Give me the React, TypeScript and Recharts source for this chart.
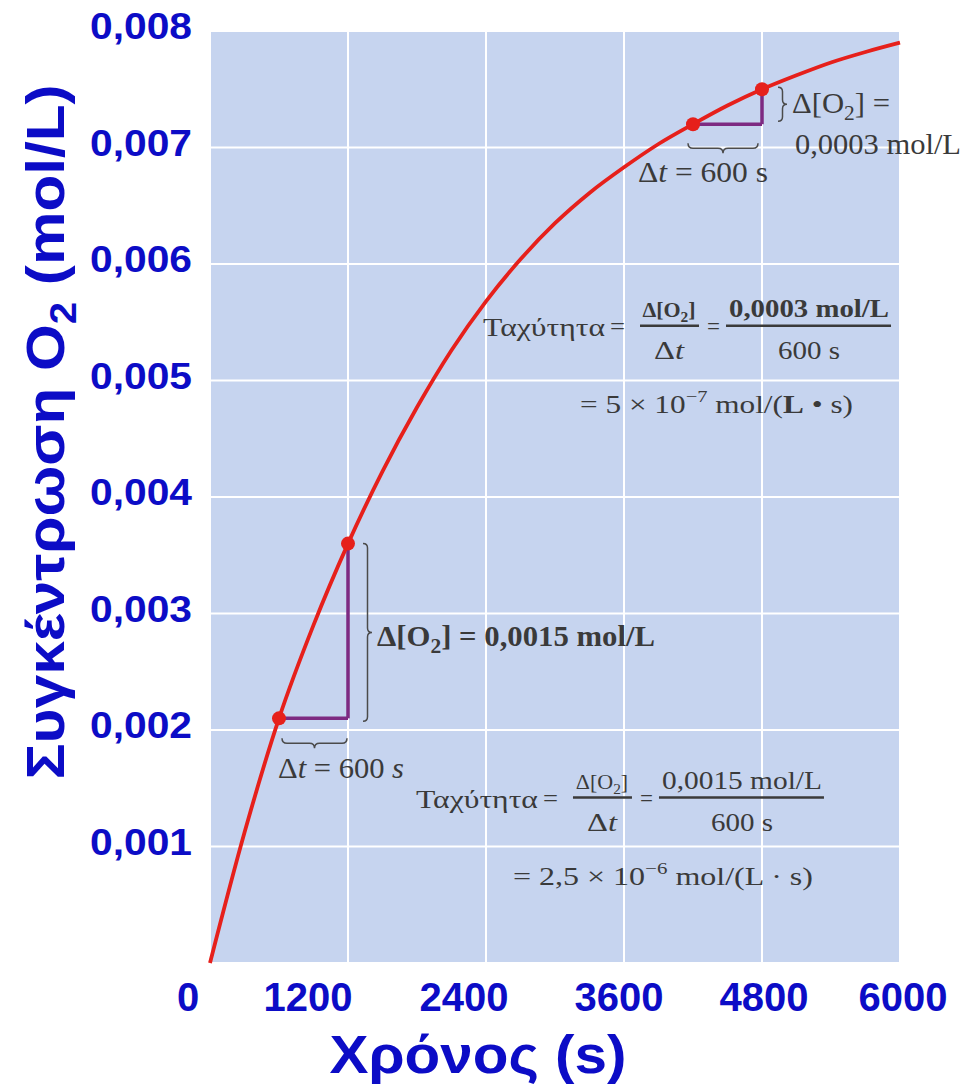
import {
  CartesianGrid,
  ComposedChart,
  Label,
  Line,
  ReferenceDot,
  ReferenceLine,
  XAxis,
  YAxis,
} from "recharts";

// time (s) and O2 concentration (mol/L)
const times = [
  0, 300, 600, 900, 1200, 1500, 1800, 2100, 2400, 2700, 3000, 3300, 3600,
  3900, 4200, 4500, 4800, 5100, 5400, 5700, 6000,
];
const o2 = [
  0, 0.00112, 0.0021, 0.0029, 0.0036, 0.00422, 0.00477, 0.00526, 0.00568,
  0.00604, 0.00635, 0.00661, 0.00683, 0.00703, 0.0072, 0.00736, 0.0075,
  0.00762, 0.00773, 0.00782, 0.0079,
];
const markedTimes = [600, 1200, 4200, 4800];
const xTicks = [0, 1200, 2400, 3600, 4800, 6000];
const yTicks = [0.001, 0.002, 0.003, 0.004, 0.005, 0.006, 0.007, 0.008];
// the printed tick numbers sit a little off the grid lines
const xTickNudge: Record<number, number> = {
  0: -22,
  1200: -40,
  2400: -22,
  3600: -5,
  4800: 2,
  6000: 3,
};

const rows = times.map((t, i) => ({ t, c: o2[i] }));

const C = {
  blue: "#0c0cc6",
  plot: "#c6d4ef",
  grid: "#ffffff",
  curve: "#e6201b",
  leg: "#7d2a82",
  ink: "#3a3a3a",
  brace: "#4b4b4b",
};

const SANS = "'Liberation Sans', Arial, sans-serif";
const SERIF = "'Liberation Serif', 'DejaVu Serif', serif";

function vBrace(x: number, ya: number, yb: number, w: number) {
  const m = (ya + yb) / 2;
  const h = w / 2;
  return `M${x},${ya} Q${x + h},${ya} ${x + h},${ya + h} L${x + h},${m - h} Q${x + h},${m} ${x + w},${m} Q${x + h},${m} ${x + h},${m + h} L${x + h},${yb - h} Q${x + h},${yb} ${x},${yb}`;
}

function hBrace(xa: number, xb: number, y: number, h: number) {
  const m = (xa + xb) / 2;
  const k = h / 2;
  return `M${xa},${y} Q${xa},${y + k} ${xa + k},${y + k} L${m - k},${y + k} Q${m},${y + k} ${m},${y + h} Q${m},${y + k} ${m + k},${y + k} L${xb - k},${y + k} Q${xb},${y + k} ${xb},${y}`;
}

function XTick({ x, y, payload }: any) {
  const shift = xTickNudge[payload.value] ?? 0;
  return (
    <text
      x={x + shift}
      y={y + 48}
      textAnchor="middle"
      fontSize={40}
      fontWeight={700}
      fontFamily={SANS}
      fill={C.blue}
    >
      {payload.value}
    </text>
  );
}

function YTick({ x, y, payload }: any) {
  return (
    <text
      x={x - 18}
      y={y + 8}
      textAnchor="end"
      fontSize={36}
      fontWeight={700}
      fontFamily={SANS}
      fill={C.blue}
      textLength={102}
      lengthAdjust="spacingAndGlyphs"
    >
      {String(payload.value).replace(".", ",")}
    </text>
  );
}

function O2({ size = 26 }: { size?: number }) {
  return (
    <>
      Δ[O<tspan dy={size * 0.25} fontSize={size * 0.7}>2</tspan>
      <tspan dy={-size * 0.25}>]</tspan>
    </>
  );
}

const stretch = { lengthAdjust: "spacingAndGlyphs" as const };

function RateFormula({
  x,
  y,
  amount,
  result,
  exponent,
  dot,
  tail,
  bold,
}: {
  x: number;
  y: number;
  amount: string;
  result: string;
  exponent: string;
  dot: string;
  tail: number;
  bold?: boolean;
}) {
  const w = bold ? 700 : 400;
  return (
    <g fontFamily={SERIF} fontSize={26} fill={C.ink}>
      <text x={x} y={y + 10} textLength={122} {...stretch}>
        Ταχύτητα
      </text>
      <text x={x + 127} y={y + 9} textLength={15} {...stretch}>
        =
      </text>
      <text
        x={x + 186}
        y={y - 9}
        textAnchor="middle"
        fontWeight={w}
        fontSize={22}
      >
        <O2 size={22} />
      </text>
      <line x1={x + 157} x2={x + 216} y1={y} y2={y} stroke={C.ink} strokeWidth={2.5} />
      <text x={x + 186} y={y + 33} textAnchor="middle" textLength={30} {...stretch}>
        Δ<tspan fontStyle="italic">t</tspan>
      </text>
      <text x={x + 224} y={y + 9} textLength={13} {...stretch}>
        =
      </text>
      <text
        x={x + 326}
        y={y - 9}
        textAnchor="middle"
        fontWeight={w}
        textLength={160}
        {...stretch}
      >
        {amount}
      </text>
      <line x1={x + 243} x2={x + 408} y1={y} y2={y} stroke={C.ink} strokeWidth={2.5} />
      <text x={x + 326} y={y + 33} textAnchor="middle" textLength={62} {...stretch}>
        600 s
      </text>
      <text x={x + 97} y={y + 87} textLength={tail} {...stretch}>
        = {result} × 10
        <tspan dy={-11} fontSize={17}>
          {exponent}
        </tspan>
        <tspan dy={11}> mol/(</tspan>
        <tspan fontWeight={w}>L</tspan>
        <tspan> {dot} s)</tspan>
      </text>
    </g>
  );
}

function RateDot(props: any) {
  const { cx, cy, payload, index } = props;
  if (!markedTimes.includes(payload.t)) return <g key={`d${index}`} />;
  return <circle key={`d${index}`} cx={cx} cy={cy} r={7} fill={C.curve} />;
}

export default function App() {
  return (
    <div style={{ position: "absolute", left: 0, top: 0, background: "#fff" }}>
      <ComposedChart
        width={967}
        height={1090}
        data={rows}
        margin={{ top: 31, right: 67, bottom: 0, left: 0 }}
      >
        <CartesianGrid
          fill={C.plot}
          fillOpacity={1}
          stroke={C.grid}
          strokeWidth={2}
        />
        <XAxis
          dataKey="t"
          type="number"
          domain={[0, 6000]}
          ticks={xTicks}
          height={127}
          axisLine={false}
          tickLine={false}
          tickSize={0}
          tickMargin={0}
          tick={<XTick />}
        >
          <Label
            content={() => (
              <text
                x={478}
                y={1073}
                textAnchor="middle"
                fontSize={54}
                fontWeight={700}
                fontFamily={SANS}
                fill={C.blue}
                textLength={297}
                lengthAdjust="spacingAndGlyphs"
              >
                Χρόνος (s)
              </text>
            )}
          />
        </XAxis>
        <YAxis
          type="number"
          domain={[0, 0.008]}
          ticks={yTicks}
          width={210}
          axisLine={false}
          tickLine={false}
          tickSize={0}
          tickMargin={0}
          tick={<YTick />}
        >
          <Label
            content={() => (
              <text
                transform="translate(64,432) rotate(-90)"
                textAnchor="middle"
                fontSize={54}
                fontWeight={700}
                fontFamily={SANS}
                fill={C.blue}
                textLength={695}
                lengthAdjust="spacingAndGlyphs"
              >
                Συγκέντρωση O
                <tspan dy={12} fontSize={36}>
                  2
                </tspan>
                <tspan dy={-12}> (mol/L)</tspan>
              </text>
            )}
          />
        </YAxis>

        {/* Δt / Δ[O2] legs of the two rate triangles */}
        <ReferenceLine
          segment={[{ x: 600, y: 0.0021 }, { x: 1200, y: 0.0021 }]}
          stroke={C.leg}
          strokeWidth={3.5}
        />
        <ReferenceLine
          segment={[{ x: 1200, y: 0.0021 }, { x: 1200, y: 0.0036 }]}
          stroke={C.leg}
          strokeWidth={3.5}
        />
        <ReferenceLine
          segment={[{ x: 4200, y: 0.0072 }, { x: 4800, y: 0.0072 }]}
          stroke={C.leg}
          strokeWidth={3.5}
        />
        <ReferenceLine
          segment={[{ x: 4800, y: 0.0072 }, { x: 4800, y: 0.0075 }]}
          stroke={C.leg}
          strokeWidth={3.5}
        />

        {/* braces + labels */}
        <ReferenceLine
          segment={[{ x: 600, y: 0.0021 }, { x: 1200, y: 0.0021 }]}
          ifOverflow="visible"
          shape={(p: any) => (
            <g>
              <path d={hBrace(p.x1 + 3, p.x2 - 1, p.y1 + 20, 10)} fill="none" stroke={C.brace} strokeWidth={1.5} />
              <text
                x={p.x1 - 1}
                y={p.y1 + 60}
                fontFamily={SERIF}
                fontSize={29}
                fill={C.ink}
                textLength={126}
                {...stretch}
              >
                Δ<tspan fontStyle="italic">t</tspan> = 600 <tspan fontStyle="italic">s</tspan>
              </text>
            </g>
          )}
        />
        <ReferenceLine
          segment={[{ x: 1200, y: 0.0036 }, { x: 1200, y: 0.0021 }]}
          ifOverflow="visible"
          shape={(p: any) => (
            <g>
              <path d={vBrace(p.x1 + 15, p.y1, p.y2 + 3, 9)} fill="none" stroke={C.brace} strokeWidth={1.5} />
              <text
                x={p.x1 + 29}
                y={(p.y1 + p.y2) / 2 + 15}
                fontFamily={SERIF}
                fontSize={29}
                fontWeight={600}
                fill={C.ink}
                textLength={278}
                {...stretch}
              >
                <O2 size={29} /> = 0,0015 mol/L
              </text>
            </g>
          )}
        />
        <ReferenceLine
          segment={[{ x: 4200, y: 0.0072 }, { x: 4800, y: 0.0072 }]}
          ifOverflow="visible"
          shape={(p: any) => (
            <g>
              <path d={hBrace(p.x1 - 5, p.x2 - 4, p.y1 + 19, 10)} fill="none" stroke={C.brace} strokeWidth={1.5} />
              <text
                x={p.x1 - 55}
                y={p.y1 + 58}
                fontFamily={SERIF}
                fontSize={29}
                fill={C.ink}
                textLength={130}
                {...stretch}
              >
                Δ<tspan fontStyle="italic">t</tspan> = 600 s
              </text>
            </g>
          )}
        />
        <ReferenceLine
          segment={[{ x: 4800, y: 0.0075 }, { x: 4800, y: 0.0072 }]}
          ifOverflow="visible"
          shape={(p: any) => (
            <g fontFamily={SERIF} fontSize={29} fill={C.ink}>
              <path d={vBrace(p.x1 + 16, p.y1 - 2, p.y2 - 3, 9)} fill="none" stroke={C.brace} strokeWidth={1.5} />
              <text x={p.x1 + 30} y={(p.y1 + p.y2) / 2 + 6} textLength={98} {...stretch}>
                <O2 size={29} /> =
              </text>
              <text x={p.x1 + 33} y={(p.y1 + p.y2) / 2 + 47} textLength={166} {...stretch}>
                0,0003 mol/L
              </text>
            </g>
          )}
        />

        <ReferenceDot
          x={2374}
          y={0.00547}
          ifOverflow="visible"
          shape={(p: any) => (
            <RateFormula
              x={p.cx}
              y={p.cy}
              amount="0,0003 mol/L"
              result="5"
              exponent="−7"
              dot="•"
              tail={273}
              bold
            />
          )}
        />
        <ReferenceDot
          x={1791}
          y={0.00142}
          ifOverflow="visible"
          shape={(p: any) => (
            <RateFormula
              x={p.cx}
              y={p.cy}
              amount="0,0015 mol/L"
              result="2,5"
              exponent="−6"
              dot="·"
              tail={300}
            />
          )}
        />

        <Line
          type="monotone"
          dataKey="c"
          stroke={C.curve}
          strokeWidth={3.8}
          dot={RateDot}
          activeDot={false}
          isAnimationActive={false}
        />
      </ComposedChart>
    </div>
  );
}
